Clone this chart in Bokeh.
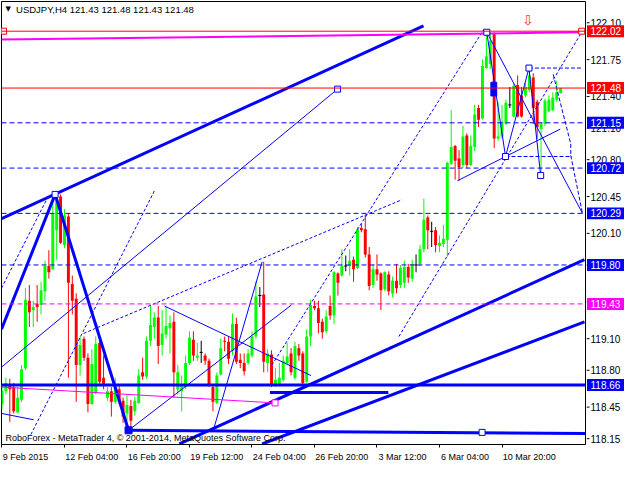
from bokeh.plotting import figure
from bokeh.layouts import row
from bokeh.models import ColumnDataSource, FixedTicker, Label, Span
from bokeh.core.properties import value
from bokeh.embed import file_html
from bokeh.resources import INLINE

# ---------------- data (USDJPY H4) ----------------
opens = [118.48,118.60,118.67,118.64,118.40,118.52,118.82,119.46,119.37,119.43,
         119.42,119.55,119.79,119.76,120.13,120.45,119.99,120.26,119.62,119.48,
         118.85,119.10,118.92,118.48,118.59,119.06,118.73,118.54,118.60,118.50,
         118.62,118.51,118.39,118.46,118.41,118.49,118.78,118.74,119.08,119.21,
         119.30,119.04,119.14,119.20,119.26,118.62,118.60,118.64,118.87,119.09,
         118.92,118.97,118.94,118.89,118.64,118.49,118.76,119.08,119.07,118.98,
         119.24,118.90,118.87,118.87,118.94,119.12,119.51,119.52,118.87,118.95,
         118.66,118.67,118.71,118.87,118.96,118.73,119.01,118.96,118.69,119.12,
         119.41,119.39,119.26,119.17,119.41,119.32,119.72,119.70,119.79,119.79,
         119.85,119.77,120.15,120.14,119.90,119.61,119.76,119.72,119.57,119.71,
         119.53,119.65,119.61,119.63,119.78,119.67,119.80,119.81,119.95,120.25,
         120.12,120.13,119.98,120.00,120.04,120.76,120.93,120.81,120.75,121.03,
         120.75,120.92,121.29,121.19,121.67,121.71,121.99,121.00,121.02,121.14,
         121.32,121.21,121.51,121.41,121.41,121.46,121.58,121.35,121.09,121.14,
         121.26,121.27,121.37,121.43]
highs = [118.66,118.73,118.72,118.68,118.64,118.85,119.58,119.61,119.46,119.61,
         119.64,119.84,119.94,120.47,120.47,120.47,120.33,120.29,119.70,119.53,
         119.12,119.12,118.96,119.00,119.12,119.10,118.94,118.64,118.64,118.73,
         118.66,118.54,118.57,118.52,118.55,118.81,118.92,119.12,119.41,119.35,
         119.41,119.37,119.40,119.32,119.35,118.85,118.75,118.94,119.17,119.17,
         119.06,119.08,118.96,118.91,118.66,118.78,119.10,119.12,119.12,119.34,
         119.30,118.96,118.96,119.00,119.17,119.64,119.59,119.83,119.00,118.99,
         118.82,118.87,118.94,119.06,119.01,119.07,119.05,118.98,119.19,119.47,
         119.46,119.46,119.29,119.37,119.51,119.74,119.73,119.95,119.89,119.95,
         119.88,120.16,120.19,120.27,119.97,119.81,119.90,119.73,119.74,119.74,
         119.69,119.81,119.80,119.84,119.81,119.85,119.90,119.99,120.43,120.27,
         120.21,120.16,120.08,120.18,120.78,121.27,120.94,120.89,121.12,121.05,
         121.03,121.32,121.32,121.75,122.02,122.01,122.01,121.34,121.32,121.37,
         121.49,121.52,121.60,121.49,121.53,121.67,121.62,121.37,121.16,121.38,
         121.41,121.44,121.55,121.48]
lows = [118.43,118.57,118.31,118.39,118.39,118.50,118.80,119.21,119.21,119.26,
        119.33,119.46,119.67,119.75,119.85,120.00,119.96,118.73,119.33,118.50,
        118.75,118.89,118.40,118.47,118.57,118.66,118.62,118.51,118.36,118.48,
        118.48,118.30,118.32,118.23,118.37,118.48,118.71,118.72,119.03,119.10,
        118.86,118.94,119.10,118.96,118.54,118.57,118.41,118.62,118.85,118.89,
        118.89,118.87,118.85,118.64,118.41,118.48,118.75,118.98,118.86,118.94,
        118.86,118.82,118.75,118.85,118.92,119.10,119.40,118.78,118.78,118.64,
        118.64,118.66,118.69,118.85,118.75,118.71,118.89,118.66,118.68,119.03,
        119.37,119.15,119.10,119.15,119.28,119.24,119.51,119.69,119.74,119.70,
        119.64,119.76,120.11,119.87,119.56,119.58,119.65,119.37,119.55,119.51,
        119.49,119.53,119.58,119.58,119.63,119.64,119.73,119.79,119.92,119.95,
        119.97,119.92,119.92,119.97,119.88,120.75,120.61,120.60,120.72,120.72,
        120.74,120.88,121.11,121.18,121.66,121.66,120.91,120.98,121.00,121.13,
        121.29,121.20,121.20,121.20,121.39,121.44,121.14,121.00,120.65,121.12,
        121.25,121.26,121.35,121.43]
closes = [118.60,118.68,118.62,118.41,118.54,118.81,119.47,119.35,119.40,119.40,
          119.56,119.79,119.73,120.29,120.42,120.01,120.27,119.63,119.46,118.85,
          119.04,118.92,118.48,118.86,119.05,118.69,118.66,118.60,118.50,118.64,
          118.50,118.36,118.47,118.32,118.51,118.75,118.74,119.08,119.23,119.30,
          119.03,119.15,119.22,119.25,118.78,118.78,118.66,118.87,119.11,118.94,
          118.94,118.97,118.89,118.66,118.50,118.75,119.01,119.07,118.91,119.24,
          118.88,118.87,118.79,118.96,119.12,119.50,119.51,118.88,118.96,118.66,
          118.71,118.73,118.89,118.93,118.78,119.03,118.94,118.68,119.12,119.42,
          119.39,119.25,119.16,119.31,119.32,119.73,119.63,119.79,119.79,119.84,
          119.76,120.14,120.13,119.90,119.60,119.76,119.71,119.56,119.73,119.55,
          119.65,119.58,119.77,119.78,119.68,119.81,119.80,119.95,120.23,120.13,
          120.12,119.99,120.01,120.05,120.77,120.92,120.79,120.73,121.02,120.75,
          120.93,121.23,121.18,121.69,121.78,121.93,121.00,121.02,121.16,121.34,
          121.32,121.50,121.21,121.21,121.49,121.60,121.29,121.11,121.14,121.36,
          121.37,121.39,121.44,121.48]

date_tick_bars = [0, 16, 32, 48, 64, 80, 96, 112, 128]
date_tick_labels = ["9 Feb 2015", "12 Feb 04:00", "16 Feb 20:00", "19 Feb 12:00",
                    "24 Feb 04:00", "26 Feb 20:00", "3 Mar 12:00", "6 Mar 04:00",
                    "10 Mar 20:00"]
price_ticks = [122.10, 121.75, 121.40, 121.10, 120.80, 120.45, 120.10,
               119.80, 119.45, 119.10, 118.80, 118.45, 118.15]

level_prices = [122.02, 121.48, 121.15, 120.72, 120.29, 119.80, 119.43, 118.66]
level_colors = ["#ff0000", "#ff0000", "#0000ff", "#0000ff", "#0000ff", "#0000ff",
                "#ff00ff", "#0000ff"]
level_dash = ["solid", "solid", "5 3", "5 3", "5 3", "5 3", "5 3", "solid"]
level_width = [1, 1, 1, 1, 1, 1, 1, 3]

# trend lines (bar index, price)
thick_x0 = [-0.125, -0.125, 13.6, 45.4, 66.6, 32.4, 68.6]
thick_y0 = [120.24, 119.19, 120.47, 118.10, 118.10, 118.23, 118.59]
thick_x1 = [107.9, 13.6, 32.4, 149.1, 149.1, 149.4, 98.9]
thick_y1 = [122.07, 120.47, 118.23, 119.85, 119.26, 118.20, 118.59]

thin_x0 = [-0.125, -0.125, 32.4, 41.6, 54.1, 124.1, 128.9, 134.9, 124.1, 116.6]
thin_y0 = [118.83, 118.39, 118.23, 119.41, 118.23, 122.01, 120.83, 121.67, 122.01, 120.60]
thin_x1 = [85.9, 8.1, 74.1, 79.1, 66.6, 128.9, 134.9, 137.9, 148.6, 142.9]
thin_y1 = [121.47, 118.33, 119.42, 118.75, 119.83, 120.83, 121.67, 120.65, 120.29, 121.09]

dot_x0 = [101.6, 69.1, 20.9, -0.125, 7.4]
dot_y0 = [119.12, 118.85, 119.15, 119.58, 118.19]
dot_x1 = [148.4, 123.4, 102.4, 12.1, 39.1]
dot_y1 = [122.01, 122.04, 120.42, 120.47, 120.51]

dash_x0 = [134.9, 128.9, 141.1, 145.6, 145.6]
dash_y0 = [121.67, 120.83, 121.61, 120.95, 120.84]
dash_x1 = [148.4, 145.9, 145.6, 145.6, 148.6]
dash_y1 = [121.67, 120.83, 120.95, 120.84, 120.29]

mag_x0 = [-0.125, -0.125]
mag_y0 = [118.64, 121.94]
mag_x1 = [69.9, 148.6]
mag_y1 = [118.49, 122.01]
mag_w = [1, 2]

sq_x = [13.6, 85.9, 124.1, 134.9, 128.9, 137.9, 122.9]
sq_y = [120.47, 121.47, 122.01, 121.67, 120.83, 120.65, 118.21]
sqf_x = [32.4]
sqf_y = [118.23]
red_sq_x = [0.4, 148.4]
red_sq_y = [122.02, 122.02]
mag_sq_x = [69.9]
mag_sq_y = [118.49]
order_x = [125.9]
order_y = [121.47]

# ---------------- main chart ----------------
X0, X1 = -0.125, 149.375
Y0, Y1 = 118.095, 122.302
FONT = "Liberation Sans"
W_MAIN, W_AXIS, H = 586, 38, 464
B_TOP, B_BOTTOM = 1, 17

p = figure(width=W_MAIN, height=H, x_range=(X0, X1), y_range=(Y0, Y1),
           output_backend="svg", toolbar_location=None, y_axis_location=None,
           min_border_left=1, min_border_top=B_TOP, min_border_right=1,
           min_border_bottom=B_BOTTOM)
p.grid.visible = False
p.outline_line_color = "black"
p.outline_line_width = 1
p.background_fill_color = "white"
p.border_fill_color = "white"

n = len(opens)
idx = list(range(n))
col = []
for o, c in zip(opens, closes):
    col.append("#00ff00" if c > o else ("#ff0000" if c < o else "#000000"))
src = ColumnDataSource(dict(x=idx, h=highs, l=lows,
                            top=[max(o, c) for o, c in zip(opens, closes)],
                            bot=[min(o, c) for o, c in zip(opens, closes)],
                            color=col))
p.segment(x0="x", y0="l", x1="x", y1="h", line_color="color", line_width=1, source=src)
p.vbar(x="x", top="top", bottom="bot", width=0.75, fill_color="color",
       line_color=None, source=src)
doji = [i for i in idx if opens[i] == closes[i]]
p.segment(x0=[i - 0.4 for i in doji], x1=[i + 0.4 for i in doji],
          y0=[opens[i] for i in doji], y1=[opens[i] for i in doji],
          line_color="black", line_width=1)

for lp, lc, ld, lw in zip(level_prices, level_colors, level_dash, level_width):
    p.add_layout(Span(location=lp, dimension="width", line_color=lc,
                      line_dash=ld, line_width=lw))

p.segment(x0=thick_x0, y0=thick_y0, x1=thick_x1, y1=thick_y1, line_color="#0000ff", line_width=3)
p.segment(x0=thin_x0, y0=thin_y0, x1=thin_x1, y1=thin_y1, line_color="#0000ff", line_width=1)
p.segment(x0=dot_x0, y0=dot_y0, x1=dot_x1, y1=dot_y1, line_color="#0000ff",
          line_width=1, line_dash="3 2")
p.segment(x0=dash_x0, y0=dash_y0, x1=dash_x1, y1=dash_y1, line_color="#0000ff",
          line_width=1, line_dash="4 2")
p.segment(x0=mag_x0, y0=mag_y0, x1=mag_x1, y1=mag_y1, line_color="#ff00ff", line_width=mag_w)

p.scatter(sq_x, sq_y, marker="square", size=6, fill_color="white", line_color="#0000ff", line_width=1)
p.scatter(sqf_x, sqf_y, marker="square", size=7, fill_color="#0000ff", line_color="#0000ff")
p.scatter(red_sq_x, red_sq_y, marker="square", size=6, fill_color="white", line_color="#ff0000")
p.scatter(mag_sq_x, mag_sq_y, marker="square", size=6, fill_color="white", line_color="#ff00ff")
p.rect(order_x, order_y, width=1.5, height=0.13, fill_color="#0000ff", line_color="#0000ff")

# time axis: minor ticks at the bars, labels left-aligned after them
frame_w = W_MAIN - 2
px_per_bar = frame_w / (X1 - X0)
centers = [round((b + 4.6 * len(t) / 2 / px_per_bar) * 4) / 4
           for b, t in zip(date_tick_bars, date_tick_labels)]
ax = p.xaxis[0]
ax.ticker = FixedTicker(ticks=centers, minor_ticks=date_tick_bars)
ax.major_label_overrides = {c: t for c, t in zip(centers, date_tick_labels)}
ax.major_tick_out = 0
ax.major_tick_in = 0
ax.major_tick_line_color = None
ax.minor_tick_out = 3
ax.minor_tick_in = 0
ax.minor_tick_line_color = "black"
ax.major_label_standoff = 4
ax.major_label_text_font = FONT
ax.major_label_text_font_size = "9px"
ax.major_label_text_color = "black"
ax.axis_line_color = "black"

p.add_layout(Label(x=1.6, y=122.228, text="\u25bc", text_align="center",
                   text_baseline="middle", text_font="DejaVu Sans",
                   text_font_size="7px", text_color="black"))
p.add_layout(Label(x=3.6, y=122.228, text="USDJPY,H4  121.43 121.48 121.43 121.48",
                   text_align="left", text_baseline="middle", text_font=FONT,
                   text_font_size="9.5px", text_color="black"))
p.add_layout(Label(x=0.9, y=118.159,
                   text="RoboForex - MetaTrader 4, \u00a9 2001-2014, MetaQuotes Software Corp.",
                   text_align="left", text_baseline="middle", text_font=FONT,
                   text_font_size="9px", text_color="black"))
p.add_layout(Label(x=134.6, y=122.13, text="\u21e9", text_align="center",
                   text_baseline="middle", text_font="DejaVu Sans",
                   text_font_size="14px", text_color="#ff3030"))

# ---------------- price scale strip (shares the price range) ----------------
s = figure(width=W_AXIS, height=H, x_range=(0, W_AXIS), y_range=p.y_range,
           output_backend="svg", toolbar_location=None,
           x_axis_location=None, y_axis_location=None,
           min_border_left=0, min_border_right=0, min_border_top=B_TOP,
           min_border_bottom=B_BOTTOM)
s.grid.visible = False
s.outline_line_color = None
s.background_fill_color = "white"
s.border_fill_color = "white"

frame_h = H - B_TOP - B_BOTTOM
half_box = 6.0 * (Y1 - Y0) / frame_h
s.segment(x0=0, x1=3, y0=price_ticks, y1=price_ticks, line_color="black", line_width=1)
s.text(x=4, y=price_ticks, text=["%.2f" % t for t in price_ticks],
       text_baseline="middle", text_align="left", text_font=value(FONT),
       text_font_size="10px", text_color="black")
s.quad(left=0.5, right=W_AXIS, bottom=[lp - half_box for lp in level_prices],
       top=[lp + half_box for lp in level_prices], fill_color=level_colors, line_color=None)
s.text(x=4, y=level_prices, text=["%.2f" % lp for lp in level_prices],
       text_baseline="middle", text_align="left", text_font=value(FONT),
       text_font_size="10px", text_color="white")

layout = row(p, s)
open("out.html", "w").write(file_html(layout, INLINE))
